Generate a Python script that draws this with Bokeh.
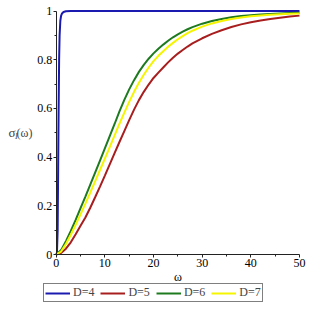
from bokeh.plotting import figure
from bokeh.models import Legend, LegendItem, FixedTicker, Label, LinearAxis, Range1d
from bokeh.embed import file_html
from bokeh.resources import INLINE

# ---- data ----
w_d4 = [0, 0.15, 0.3, 0.4, 0.5, 0.6, 0.7, 0.85, 1.0, 1.2, 1.5, 2.0, 3.0, 50]
s_d4 = [0, 0.005, 0.1, 0.35, 0.6, 0.8, 0.9, 0.96, 0.98, 0.99, 0.996, 0.999, 1.0, 1.0]

w_d5 = [0, 1, 2, 3, 4, 5, 6, 7, 8, 9, 10, 11, 12, 13, 14, 15, 16, 17, 18, 19, 20,
        21, 22, 23, 24, 25, 26, 27, 28, 30, 32, 34, 36, 38, 40, 42, 44, 46, 48, 50]
s_d5 = [0, 0.006, 0.024, 0.05, 0.083, 0.118, 0.152, 0.192, 0.235, 0.279, 0.324,
        0.37, 0.416, 0.462, 0.507, 0.552, 0.595, 0.634, 0.668, 0.698, 0.725, 0.747,
        0.768, 0.789, 0.808, 0.825, 0.84, 0.854, 0.867, 0.888, 0.906, 0.921, 0.934,
        0.945, 0.954, 0.961, 0.967, 0.972, 0.977, 0.981]

w_d6 = [0, 1, 2, 3, 4, 5, 6, 7, 8, 9, 10, 11, 12, 13, 14, 15, 16, 17, 18, 19, 20,
        21, 22, 23, 24, 25, 26, 27, 28, 30, 32, 34, 36, 38, 40, 42, 44, 46, 48, 50]
s_d6 = [0, 0.018, 0.055, 0.097, 0.142, 0.19, 0.238, 0.287, 0.336, 0.386, 0.436,
        0.486, 0.536, 0.588, 0.635, 0.678, 0.716, 0.75, 0.779, 0.804, 0.826, 0.845,
        0.862, 0.878, 0.892, 0.904, 0.915, 0.925, 0.934, 0.948, 0.959, 0.967, 0.974,
        0.979, 0.983, 0.986, 0.988, 0.990, 0.992, 0.993]

w_d7 = [0, 1, 2, 3, 4, 5, 6, 7, 8, 9, 10, 11, 12, 13, 14, 15, 16, 17, 18, 19, 20,
        21, 22, 23, 24, 25, 26, 27, 28, 30, 32, 34, 36, 38, 40, 42, 44, 46, 48, 50]
s_d7 = [0, 0.012, 0.043, 0.081, 0.122, 0.165, 0.209, 0.254, 0.3, 0.347, 0.394,
        0.441, 0.489, 0.537, 0.583, 0.627, 0.668, 0.705, 0.738, 0.768, 0.794, 0.816,
        0.835, 0.853, 0.869, 0.884, 0.897, 0.909, 0.919, 0.936, 0.949, 0.959, 0.967,
        0.973, 0.978, 0.982, 0.985, 0.987, 0.989, 0.99]

series_labels = ["D=4", "D=5", "D=6", "D=7"]
series_colors = ["#1a1ab0", "#a81e1e", "#1e7a1e", "#f5f500"]

x_ticks = [0, 10, 20, 30, 40, 50]
x_minor = [5, 15, 25, 35, 45]
x_tick_labels = ["0", "10", "20", "30", "40", "50"]
y_ticks = [0, 0.2, 0.4, 0.6, 0.8, 1]
y_minor = [0.1, 0.3, 0.5, 0.7, 0.9]
y_tick_labels = ["0", "0.2", "0.4", "0.6", "0.8", "1"]

FONT = "'Liberation Serif', serif"

# frame fills the canvas; axes are fixed at the origin
W = H = 309
X0, X50 = 55.7, 299.0       # pixel of omega = 0 and omega = 50
Y0, Y1 = 254.0, 10.5        # pixel of sigma = 0 and sigma = 1
sx = (X50 - X0) / 50.0
sy = (Y0 - Y1) / 1.0

p = figure(width=W, height=H, output_backend="svg", toolbar_location=None,
           x_axis_location=None, y_axis_location=None,
           min_border_left=0, min_border_right=0, min_border_top=0,
           min_border_bottom=0)
p.x_range = Range1d(-X0 / sx, 50 + (W - X50) / sx)
p.y_range = Range1d(-(H - Y0) / sy, 1 + Y1 / sy)
p.outline_line_color = None
p.grid.visible = False
p.background_fill_color = "white"
p.border_fill_color = "white"

xs = [w_d4, w_d5, w_d6, w_d7]
ys = [s_d4, s_d5, s_d6, s_d7]
renderers = []
for x, y, c in zip(xs, ys, series_colors):
    r = p.line(x, y, line_color=c, line_width=2)
    renderers.append(r)

xaxis = LinearAxis(fixed_location=0, bounds=(0, 50),
                   ticker=FixedTicker(ticks=x_ticks, minor_ticks=x_minor))
yaxis = LinearAxis(fixed_location=0, bounds=(0, 1),
                   ticker=FixedTicker(ticks=y_ticks, minor_ticks=y_minor))
xaxis.major_label_overrides = {t: l for t, l in zip(x_ticks, x_tick_labels)}
yaxis.major_label_overrides = {t: l for t, l in zip(y_ticks, y_tick_labels)}
for ax in (xaxis, yaxis):
    ax.axis_line_color = "#222222"
    ax.major_tick_line_color = "#222222"
    ax.minor_tick_line_color = "#222222"
    ax.major_tick_in = 0
    ax.major_tick_out = 3
    ax.minor_tick_in = 0
    ax.minor_tick_out = 2
    ax.major_label_text_font = FONT
    ax.major_label_text_font_size = "12px"
    ax.major_label_text_color = "black"
    ax.major_label_standoff = 1
xaxis.axis_label = "ω"
xaxis.axis_label_text_font = FONT
xaxis.axis_label_text_font_size = "12px"
xaxis.axis_label_text_font_style = "normal"
xaxis.axis_label_text_color = "black"
xaxis.axis_label_standoff = 0
p.add_layout(xaxis, "below")
p.add_layout(yaxis, "left")

# y axis label, horizontal: σ_I(ω)
def dx(px):
    return (px - X0) / sx

def dy(py):
    return (Y0 - py) / sy

p.add_layout(Label(x=dx(8), y=dy(132), text="σ", text_font=FONT,
                   text_font_size="13px", text_baseline="middle", text_align="left"))
p.add_layout(Label(x=dx(14.5), y=dy(135.5), text="I", text_font=FONT,
                   text_font_size="8px", text_font_style="italic",
                   text_baseline="middle", text_align="left"))
p.add_layout(Label(x=dx(16), y=dy(132), text="(ω)", text_font=FONT,
                   text_font_size="12px", text_baseline="middle", text_align="left"))

items = [LegendItem(label=l, renderers=[r]) for l, r in zip(series_labels, renderers)]
legend = Legend(items=items, orientation="horizontal", location=(43, H - 302),
                label_text_font=FONT, label_text_font_size="12px",
                glyph_width=25, glyph_height=10, label_height=10,
                label_standoff=3, spacing=6, padding=1, margin=0,
                border_line_color="black", border_line_width=1,
                background_fill_alpha=1.0)
p.add_layout(legend, "center")

open("out.html", "w").write(file_html(p, INLINE))
